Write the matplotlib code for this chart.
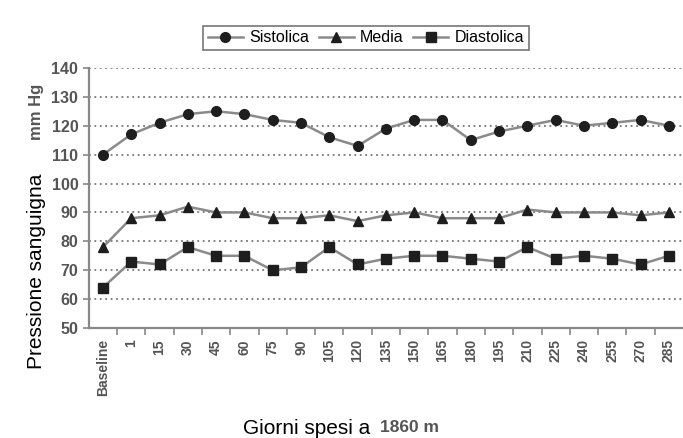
import numpy as np
import matplotlib.pyplot as plt

giorni = ["Baseline", "1", "15", "30", "45", "60", "75", "90", "105", "120", "135",
          "150", "165", "180", "195", "210", "225", "240", "255", "270", "285"]
sistolica = [110, 117, 121, 124, 125, 124, 122, 121, 116, 113, 119,
             122, 122, 115, 118, 120, 122, 120, 121, 122, 120]
media = [78, 88, 89, 92, 90, 90, 88, 88, 89, 87, 89,
         90, 88, 88, 88, 91, 90, 90, 90, 89, 90]
diastolica = [64, 73, 72, 78, 75, 75, 70, 71, 78, 72, 74,
              75, 75, 74, 73, 78, 74, 75, 74, 72, 75]

plt.rcParams['font.family'] = ['Liberation Sans', 'DejaVu Sans']

line_col = "#8a8a8a"
mark_col = "#1e1e1e"
tick_col = "#555555"

fig = plt.figure(figsize=(6.83, 4.38), dpi=100)
ax = fig.add_axes([0.130, 0.251, 0.870, 0.594])

x = np.arange(len(giorni))
ax.plot(x, sistolica, color=line_col, lw=1.8, marker='o', ms=7,
        mfc=mark_col, mec=mark_col, label='Sistolica')
ax.plot(x, media, color=line_col, lw=1.8, marker='^', ms=7,
        mfc=mark_col, mec=mark_col, label='Media')
ax.plot(x, diastolica, color=line_col, lw=1.8, marker='s', ms=6.5,
        mfc=mark_col, mec=mark_col, label='Diastolica')

ax.set_xlim(-0.5, len(giorni) - 0.5)
ax.set_ylim(50, 140)
ax.set_yticks(range(50, 141, 10))
ax.yaxis.grid(True, ls=(0, (1, 2)), color="#777777", lw=1.3)
ax.set_axisbelow(True)

ax.set_xticks(x)
ax.set_xticklabels(giorni, rotation=90, fontweight='bold', color=tick_col, fontsize=10)
ax.set_xticks(np.arange(0.5, len(giorni) - 1, 1), minor=True)
ax.tick_params(axis='x', which='major', length=0, pad=8)
ax.tick_params(axis='x', which='minor', length=5, color="#888888", width=1.2)
ax.tick_params(axis='y', length=4, color="#888888", width=1.2)
for lab in ax.get_yticklabels():
    lab.set_fontweight('bold')
    lab.set_color(tick_col)
    lab.set_fontsize(11.5)

for s in ['top', 'right']:
    ax.spines[s].set_visible(False)
for s in ['left', 'bottom']:
    ax.spines[s].set_color("#888888")
    ax.spines[s].set_linewidth(1.6)

leg = fig.legend(loc='center', bbox_to_anchor=(366 / 683, 1 - 38 / 438), ncol=3,
                 frameon=True, fancybox=False, edgecolor="#555555",
                 fontsize=11.5, handlelength=2.2, handletextpad=0.4, columnspacing=0.6,
                 borderpad=0.3)
leg.get_frame().set_linewidth(1.2)

fig.text(37 / 683, 1 - 271 / 438, "Pressione sanguigna", rotation=90, ha='center', va='center',
         fontsize=15)
fig.text(37 / 683, 1 - 112 / 438, "mm Hg", rotation=90, ha='center', va='center',
         fontsize=12, fontweight='bold', color=tick_col)
fig.text(370 / 683, 1 - 428 / 438, "Giorni spesi a", ha='right', va='center',
         fontsize=15)
fig.text(380 / 683, 1 - 428 / 438, "1860 m", ha='left', va='center',
         fontsize=12.5, fontweight='bold', color=tick_col)

fig.savefig("out.png", dpi=100)
